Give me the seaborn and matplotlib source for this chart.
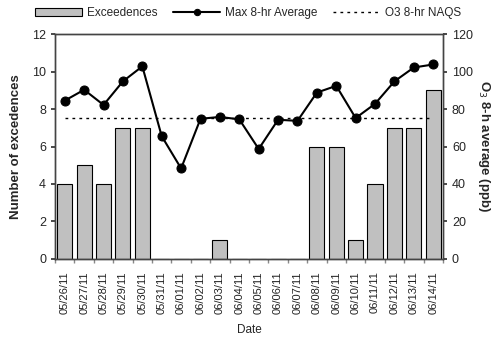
import numpy as np
import pandas as pd
import matplotlib
matplotlib.use("Agg")
import matplotlib.pyplot as plt
import seaborn as sns

# data
dates = ["05/26/11", "05/27/11", "05/28/11", "05/29/11", "05/30/11", "05/31/11",
         "06/01/11", "06/02/11", "06/03/11", "06/04/11", "06/05/11", "06/06/11",
         "06/07/11", "06/08/11", "06/09/11", "06/10/11", "06/11/11", "06/12/11",
         "06/13/11", "06/14/11"]
exceedences = [4, 5, 4, 7, 7, 0, 0, 0, 1, 0, 0, 0, 0, 6, 6, 1, 4, 7, 7, 9]
max_8hr = [84.5, 90.3, 82.2, 94.8, 102.8, 65.5, 48.3, 74.8, 75.8, 74.5, 58.7, 74.3,
           73.7, 88.8, 92.4, 75.2, 82.8, 94.8, 102.2, 103.8]
naaqs = 75

sns.set_theme(style="white")
plt.rcParams['font.family'] = ['Liberation Sans', 'DejaVu Sans']

df = pd.DataFrame({'date': dates, 'exc': exceedences, 'o3': max_8hr})
df['pos'] = np.arange(len(df))

fig = plt.figure(figsize=(4.96, 3.38), dpi=100)
ax = fig.add_axes([0.111, 0.234, 0.782, 0.665])
sns.barplot(x='date', y='exc', data=df, ax=ax, color='#c0c0c0', saturation=1,
            edgecolor='black', linewidth=0.8, width=0.78, label='Exceedences')
ax.set_ylim(0, 12)
ax.set_xlim(-0.5, len(df) - 0.5)
ax.set_yticks(range(0, 13, 2))
ax.set_ylabel('Number of excedences', fontsize=9.5, fontweight='bold', labelpad=7)
ax.set_xlabel('Date', fontsize=8.5, labelpad=7)
ax.set_xticks(df['pos'])
ax.set_xticklabels(dates, rotation=90, fontsize=8, color='#222222')
ax.tick_params(axis='x', length=0, pad=9)
ax.set_xticks(np.arange(-0.5, len(df), 1), minor=True)
ax.tick_params(axis='x', which='minor', length=3, direction='out', color='#888888', bottom=True)
ax.tick_params(axis='y', labelsize=9, length=3, direction='out', left=True, color='#333333')
if ax.get_legend() is not None:
    ax.get_legend().remove()

ax2 = ax.twinx()
sns.lineplot(x='pos', y='o3', data=df, ax=ax2, color='black', linewidth=1.5,
             marker='o', markersize=6.5, markeredgecolor='black', label='Max 8-hr Average')
ax2.plot(df['pos'], [naaqs] * len(df), linestyle=(0, (2, 3)), color='black',
         linewidth=1.0, label='O3 8-hr NAQS')
ax2.set_ylim(0, 120)
ax2.set_yticks(range(0, 121, 20))
ax2.set_ylabel('O$_3$ 8-h average (ppb)', fontsize=9.5, fontweight='bold', rotation=270, labelpad=14)
ax2.set_xlim(-0.5, len(df) - 0.5)
ax2.tick_params(axis='y', labelsize=9, length=3, direction='out', right=True, color='#333333')
ax2.get_legend().remove()

for a in (ax, ax2):
    for s in a.spines.values():
        s.set_color('#444444')
        s.set_linewidth(1.0)

h1, l1 = ax.get_legend_handles_labels()
h2, l2 = ax2.get_legend_handles_labels()
leg = fig.legend(h1 + h2, l1 + l2, loc='upper center', bbox_to_anchor=(0.5, 1.01), ncol=3,
                 frameon=False, fontsize=8.5, handlelength=4.0, handleheight=0.6,
                 columnspacing=1.3, handletextpad=0.4, markerscale=0.7)

fig.savefig('out.png', dpi=100, facecolor='white')
